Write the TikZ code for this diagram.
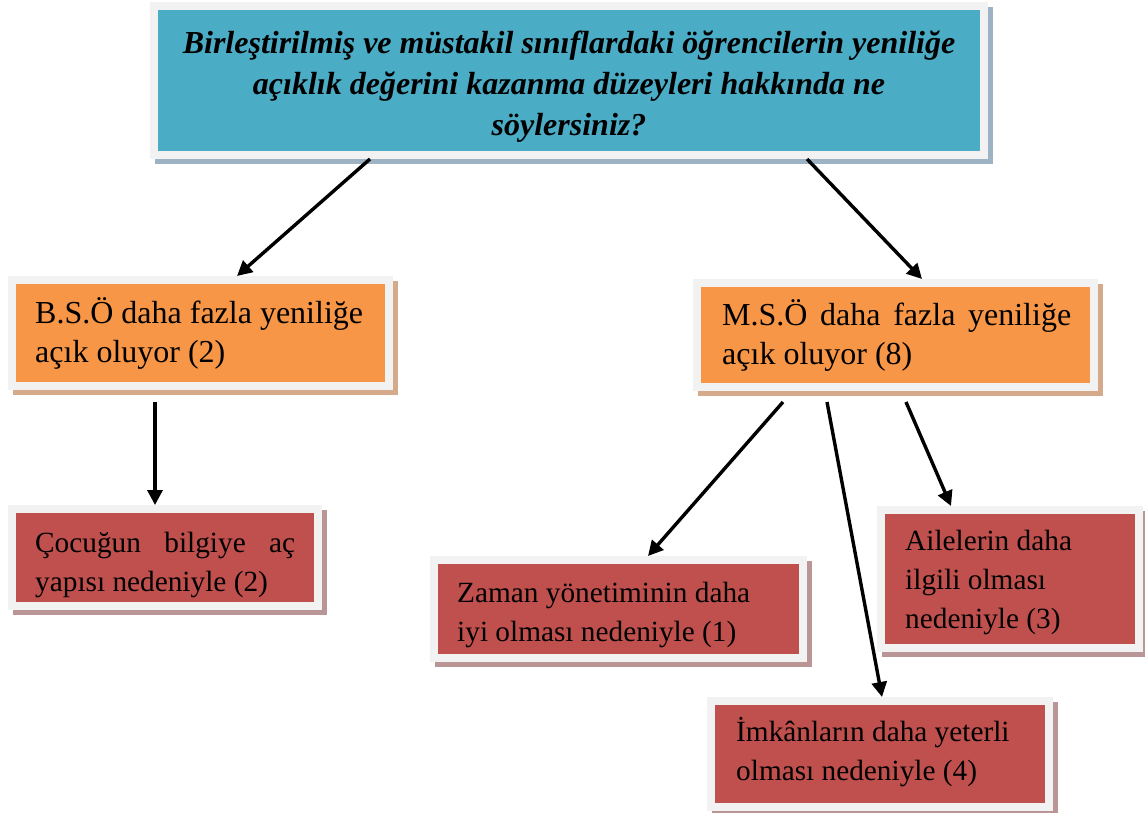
\documentclass[tikz,border=0pt]{standalone}
\usepackage{fontspec}
\setmainfont{Liberation Serif}
\usetikzlibrary{arrows.meta,backgrounds}

\definecolor{qteal}{HTML}{4BACC6}
\definecolor{qorange}{HTML}{F79646}
\definecolor{qred}{HTML}{C0504D}
\definecolor{framegray}{HTML}{F2F2F2}
\definecolor{tealshadow}{HTML}{9DB3C4}
\definecolor{orangeshadow}{HTML}{D4AA8A}
\definecolor{redshadow}{HTML}{BA9596}

\tikzset{
  box/.style={rectangle, draw=framegray, line width=8pt, inner sep=0pt, anchor=north west},
  bodytext/.style={anchor=north west, inner sep=0pt, align=left,
    font=\fontsize{32}{39.5}\selectfont},
  smalltext/.style={bodytext, font=\fontsize{29.3}{39}\selectfont},
  titletext/.style={anchor=north, inner sep=0pt, align=center,
    font=\fontsize{32}{41}\selectfont\bfseries\itshape},
  link/.style={line width=3.4pt, -{Triangle[length=15pt,width=15pt]}},
}

\begin{document}
\begin{tikzpicture}[x=1pt,y=-1pt]
\useasboundingbox (0,0) rectangle (1145,812);

% boxes (outer frame corner given)
\node[box, fill=qteal,   minimum width=830pt, minimum height=149pt] (q)     at (150,2)   {};
\node[box, fill=qorange, minimum width=377pt, minimum height=106pt] (bso)   at (8,276)   {};
\node[box, fill=qorange, minimum width=397pt, minimum height=104pt] (mso)   at (693,279) {};
\node[box, fill=qred,    minimum width=306pt, minimum height=97pt]  (cocuk) at (8,505)   {};
\node[box, fill=qred,    minimum width=369pt, minimum height=98pt]  (zaman) at (430,556) {};
\node[box, fill=qred,    minimum width=258pt, minimum height=138pt] (aile)  at (877,506) {};
\node[box, fill=qred,    minimum width=338pt, minimum height=106pt] (imkan) at (707,697) {};

% shadows behind the frames
\begin{scope}[on background layer]
  \fill[tealshadow]   ([shift={(5,5)}]q.north west)     rectangle ([shift={(5,5)}]q.south east);
  \fill[orangeshadow] ([shift={(5,5)}]bso.north west)   rectangle ([shift={(5,5)}]bso.south east);
  \fill[orangeshadow] ([shift={(5,5)}]mso.north west)   rectangle ([shift={(5,5)}]mso.south east);
  \fill[redshadow]    ([shift={(5,5)}]cocuk.north west) rectangle ([shift={(5,5)}]cocuk.south east);
  \fill[redshadow]    ([shift={(5,5)}]zaman.north west) rectangle ([shift={(5,5)}]zaman.south east);
  \fill[redshadow]    ([shift={(5,5)}]aile.north west)  rectangle ([shift={(5,5)}]aile.south east);
  \fill[redshadow]    ([shift={(5,5)}]imkan.north west) rectangle ([shift={(5,5)}]imkan.south east);
\end{scope}

% texts
\node[titletext] (tq) at (569,23)
  {\rule{0pt}{30pt}Birleştirilmiş ve müstakil sınıflardaki öğrencilerin yeniliğe\\
   açıklık değerini kazanma düzeyleri hakkında ne\\
   söylersiniz?};
\node[bodytext] (tbso) at (35,293)
  {\rule{0pt}{30pt}B.S.Ö daha fazla yeniliğe\\açık oluyor (2)};
\node[bodytext] (tmso) at (722,295)
  {\rule{0pt}{30pt}\makebox[349pt][s]{M.S.Ö daha fazla yeniliğe}\\açık oluyor (8)};
\node[smalltext] (tcocuk) at (35,522)
  {\rule{0pt}{30pt}\makebox[260pt][s]{Çocuğun bilgiye aç}\\yapısı nedeniyle (2)};
\node[smalltext] (tzaman) at (457,572)
  {\rule{0pt}{30pt}Zaman yönetiminin daha\\iyi olması nedeniyle (1)};
\node[smalltext] (taile) at (905,520)
  {\rule{0pt}{30pt}Ailelerin daha\\ilgili olması\\nedeniyle (3)};
\node[smalltext] (timkan) at (736,711)
  {\rule{0pt}{30pt}İmkânların daha yeterli\\olması nedeniyle (4)};

% connectors
\draw[link] ([shift={(220,0)}]q.south west)     -- ([shift={(229,0)}]bso.north west);
\draw[link] ([shift={(657,0)}]q.south west)     -- ([shift={(229,0)}]mso.north west);
\draw[link] ([shift={(147,12)}]bso.south west)  -- ([shift={(147,0)}]cocuk.north west);
\draw[link] ([shift={(90,11)}]mso.south west)   -- ([shift={(218,0)}]zaman.north west);
\draw[link] ([shift={(134,11)}]mso.south west)  -- ([shift={(175,0)}]imkan.north west);
\draw[link] ([shift={(213,11)}]mso.south west)  -- ([shift={(74,0)}]aile.north west);
\end{tikzpicture}
\end{document}
